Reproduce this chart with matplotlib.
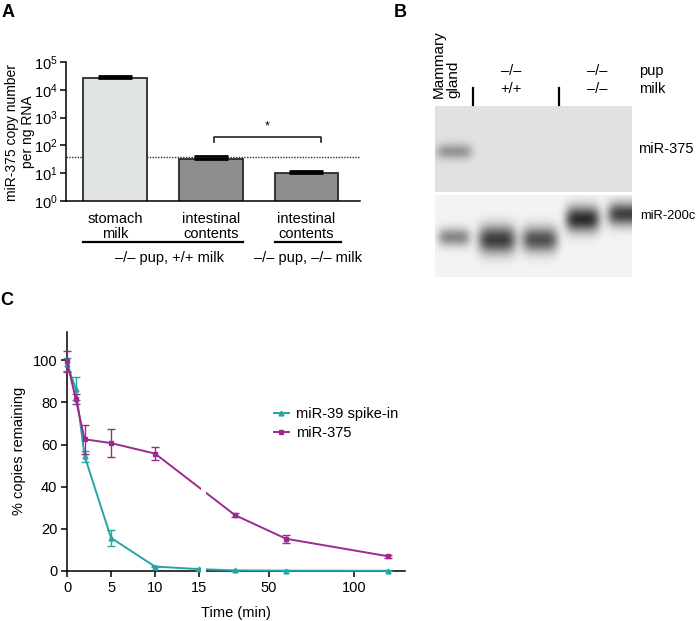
import numpy as np
import matplotlib
matplotlib.use("Agg")
import matplotlib.pyplot as plt
from matplotlib.patches import Rectangle
from matplotlib.lines import Line2D
from matplotlib import transforms

plt.rcParams['font.family'] = ['Liberation Sans', 'DejaVu Sans']
plt.rcParams['mathtext.fontset'] = 'custom'
plt.rcParams['mathtext.rm'] = 'Liberation Sans'
plt.rcParams['mathtext.it'] = 'Liberation Sans'
plt.rcParams['axes.linewidth'] = 1.1

# ---------------- data ----------------
# Panel A
a_categories = ["stomach\nmilk", "intestinal\ncontents", "intestinal\ncontents"]
a_values = [2.7e4, 32, 10.3]
a_err_upper = [3500, 9, 1.5]
a_colors = ["#dfe3e3", "#8e8e8e", "#8e8e8e"]
a_detection_limit = 39
a_groups = ["\u2013/\u2013 pup, +/+ milk", "\u2013/\u2013 pup, \u2013/\u2013 milk"]
a_group_members = [[0, 1], [2, 2]]
a_yticks = [1, 10, 100, 1e3, 1e4, 1e5]
a_yticklabels = [r"$10^{0}$", r"$10^{1}$", r"$10^{2}$", r"$10^{3}$", r"$10^{4}$", r"$10^{5}$"]

# Panel B (northern blot band intensities per lane)
b_lanes = ["Mammary gland", "-/- +/+", "-/- +/+", "-/- -/-", "-/- -/-"]
b_mir375_intensity = [0.30, 0.0, 0.0, 0.0, 0.0]
b_mir200c_intensity = [0.42, 0.72, 0.64, 0.78, 0.70]
b_mir200c_migration = [0.52, 0.55, 0.55, 0.30, 0.24]

# Panel C
c_time_39 = [0, 1, 2, 5, 10, 15, 30, 60, 120]
c_mir39 = [98, 86.5, 54.5, 15.7, 2.1, 0.9, 0.3, 0.15, 0.1]
c_mir39_err = [3, 5.5, 2.6, 3.8, 0.4, 0.3, 0.2, 0.2, 0.2]
c_time_375 = [0, 1, 2, 5, 10, 30, 60, 120]
c_mir375 = [99.5, 81.5, 62.5, 60.7, 55.7, 26.5, 15.3, 7]
c_mir375_err = [5, 2.3, 7, 6.5, 3, 0.8, 1.8, 0.7]
c_xticks = [0, 5, 10, 15, 50, 100]
c_yticks = [0, 20, 40, 60, 80, 100]

TEAL = "#25a5a3"
MAGENTA = "#9c2a8e"

W, H = 700, 621
fig = plt.figure(figsize=(W / 100, H / 100), dpi=100)


def rect(x0, y0, x1, y1):
    return [x0 / W, 1 - y1 / H, (x1 - x0) / W, (y1 - y0) / H]


# ---------------- Panel A ----------------
axA = fig.add_axes(rect(66, 62, 360, 201))
xa = np.arange(len(a_values))
bw = 0.668
axA.bar(xa, a_values, width=bw, color=a_colors, edgecolor="#2a2a2a", linewidth=1.3, zorder=2)
axA.errorbar(xa, a_values, yerr=[np.zeros(len(a_values)), a_err_upper], fmt="none",
             ecolor="black", elinewidth=1.0, capsize=12, capthick=2.0, zorder=3)
axA.set_yscale("log")
axA.set_ylim(1, 1e5)
axA.set_xlim(-0.512, 2.559)
axA.axhline(a_detection_limit, color="#333333", lw=1.0, ls=(0, (1, 1)), zorder=1)
axA.set_yticks(a_yticks)
axA.set_yticklabels(a_yticklabels, fontsize=10.5)
axA.tick_params(axis="y", which="major", length=4, width=1.1, pad=2)
axA.tick_params(axis="y", which="minor", length=2.5, width=0.8)
axA.set_xticks(xa)
axA.set_xticklabels(a_categories, fontsize=10.5, linespacing=1.05)
axA.tick_params(axis="x", length=0, pad=8)
for s in ["top", "right"]:
    axA.spines[s].set_visible(False)
fig.text(20 / W, 1 - 132 / H, "miR-375 copy number\nper ng RNA", rotation=90, ha="center",
         va="center", fontsize=10, linespacing=1.15)

# significance bracket between bars 1 and 2
bx0, bx1 = xa[1] + 0.03, xa[2] + 0.15
axA.plot([bx0, bx0, bx1, bx1], [133, 195, 195, 133], color="#222222", lw=1.2, clip_on=False)
axA.text((bx0 + bx1) / 2, 290, "*", ha="center", va="bottom", fontsize=9)

# group underlines + labels
trA = transforms.blended_transform_factory(axA.transData, axA.transAxes)
for label, (i0, i1) in zip(a_groups, a_group_members):
    x0 = xa[i0] - bw / 2
    x1 = xa[i1] + bw / 2 + (0.03 if i0 == i1 else 0)
    off = 0.0 if i0 == i1 else 0.068
    axA.plot([x0, x1], [-0.295, -0.295], transform=trA, color="black", lw=1.6, clip_on=False)
    axA.text((x0 + x1) / 2 + off, -0.41, label, transform=trA, ha="center", va="center",
             fontsize=10.5)

# ---------------- Panel B ----------------
lane_left, lane_right = -0.44, 4.14
ncol = 197


def blot(ax, bg, intens, migr, ysig, wid, nrow):
    xs = np.linspace(lane_left, lane_right, ncol)
    ys = np.linspace(0, 1, nrow)
    X, Y = np.meshgrid(xs, ys)
    img = np.full_like(X, bg)
    for i, (d, yc) in enumerate(zip(intens, migr)):
        img -= d * np.exp(-((X - i) / wid[i]) ** 4) * np.exp(-0.5 * ((Y - yc) / ysig[i]) ** 2)
    ax.imshow(img, cmap="gray", vmin=0, vmax=1, extent=[lane_left, lane_right, 1, 0],
              aspect="auto", interpolation="bilinear")
    ax.set_xticks([])
    ax.set_yticks([])
    for s in ax.spines.values():
        s.set_visible(False)


axB1 = fig.add_axes(rect(435, 106, 632, 192))
blot(axB1, 0.885, b_mir375_intensity, [0.53] * 5, [0.065] * 5, [0.42] * 5, 86)
axB2 = fig.add_axes(rect(435, 195, 632, 277))
blot(axB2, 0.955, b_mir200c_intensity, b_mir200c_migration,
     [0.08, 0.12, 0.11, 0.11, 0.10], [0.38, 0.44, 0.42, 0.40, 0.42], 82)

fs_b = 10.5
fig.text(446 / W, 1 - 98 / H, "Mammary\ngland", rotation=90, ha="center", va="bottom",
         multialignment="left", fontsize=11, linespacing=1.1)
fig.text(511 / W, 1 - 71 / H, "\u2013/\u2013", ha="center", va="center", fontsize=fs_b)
fig.text(511 / W, 1 - 89 / H, "+/+", ha="center", va="center", fontsize=fs_b)
fig.text(597 / W, 1 - 71 / H, "\u2013/\u2013", ha="center", va="center", fontsize=fs_b)
fig.text(597 / W, 1 - 89 / H, "\u2013/\u2013", ha="center", va="center", fontsize=fs_b)
fig.text(639 / W, 1 - 71 / H, "pup", ha="left", va="center", fontsize=fs_b)
fig.text(639 / W, 1 - 89 / H, "milk", ha="left", va="center", fontsize=fs_b)
for xs_ in (473, 559):
    fig.add_artist(Line2D([xs_ / W, xs_ / W], [1 - 88 / H, 1 - 105 / H], color="black", lw=1.6))
fig.text(638 / W, 1 - 149 / H, "miR-375", ha="left", va="center", fontsize=fs_b)
fig.text(640 / W, 1 - 216 / H, "miR-200c", ha="left", va="center", fontsize=9.3)

# ---------------- Panel C ----------------
BRK, GAP, K = 15.0, 1.19, 0.193


def fwd(t):
    t = np.asarray(t, dtype=float)
    return np.where(t <= BRK, t, BRK + GAP + (t - BRK) * K)


def inv(u):
    u = np.asarray(u, dtype=float)
    return np.where(u <= BRK, u, np.where(u < BRK + GAP, BRK, BRK + (u - BRK - GAP) / K))


axC = fig.add_axes(rect(67, 332, 405, 571))
axC.set_xscale("function", functions=(fwd, inv))
axC.set_xlim(0, 130)
axC.set_ylim(0, 113.4)
axC.errorbar(c_time_39, c_mir39, yerr=c_mir39_err, color=TEAL, marker="^", ms=3.5, lw=1.4,
             elinewidth=1.0, capsize=2.8, capthick=1.0, clip_on=False, zorder=3)
axC.errorbar(c_time_375, c_mir375, yerr=c_mir375_err, color=MAGENTA, marker="s", ms=3.2, lw=1.4,
             elinewidth=1.0, capsize=2.8, capthick=1.0, clip_on=False, zorder=4)
axC.set_xticks(c_xticks)
axC.set_xticklabels([str(t) for t in c_xticks], fontsize=10.5)
axC.set_yticks(c_yticks)
axC.set_yticklabels([str(v) for v in c_yticks], fontsize=10.5)
axC.xaxis.set_minor_locator(matplotlib.ticker.NullLocator())
axC.tick_params(length=4, width=1.1, pad=3)
for s in ["top", "right"]:
    axC.spines[s].set_visible(False)
axC.set_xlabel("Time (min)", fontsize=10.5, labelpad=8)
fig.text(19 / W, 1 - 451 / H, "% copies remaining", rotation=90, ha="center", va="center",
         fontsize=10.5)
# axis break
axC.add_patch(Rectangle(((200.5 - 67) / 338, -0.015), 5.5 / 338, 1.05, transform=axC.transAxes,
                        facecolor="white", edgecolor="none", clip_on=False, zorder=10))
handles = [Line2D([], [], color=TEAL, marker="^", ms=3.5, lw=1.4),
           Line2D([], [], color=MAGENTA, marker="s", ms=3.2, lw=1.4)]
axC.legend(handles, ["miR-39 spike-in", "miR-375"], loc="upper left",
           bbox_to_anchor=(274 / W, 1 - 407 / H),
           bbox_transform=fig.transFigure, frameon=False, fontsize=10.5,
           handlelength=1.0, handletextpad=0.5, labelspacing=0.35,
           borderpad=0, borderaxespad=0)

# panel letters
fig.text(2 / W, 1 - 4 / H, "A", fontsize=13, fontweight="bold", va="top", ha="left")
fig.text(394 / W, 1 - 4 / H, "B", fontsize=13, fontweight="bold", va="top", ha="left")
fig.text(0 / W, 1 - 292 / H, "C", fontsize=13, fontweight="bold", va="top", ha="left")

fig.savefig("out.png", dpi=100)
